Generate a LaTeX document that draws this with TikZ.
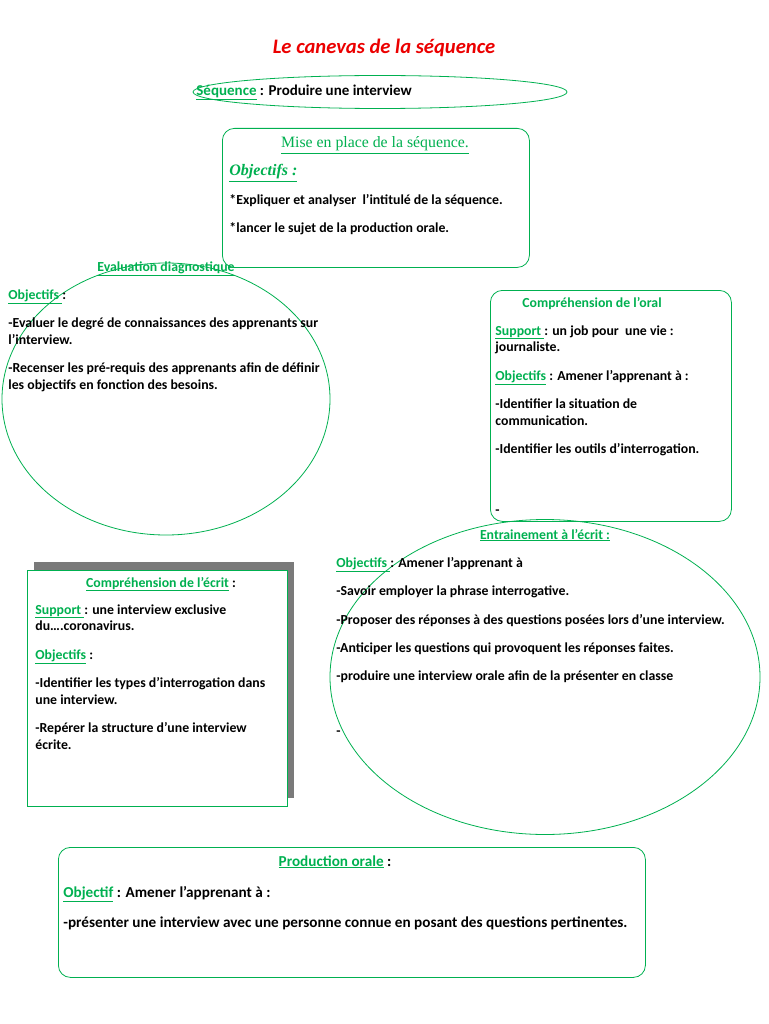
\documentclass[tikz,border=0pt]{standalone}
\usepackage{fontspec}
\setmainfont{Carlito}
\newfontfamily\serifmep{Liberation Serif}
\usetikzlibrary{positioning,shapes.geometric,shadows}
\definecolor{vert}{RGB}{0,176,80}
\definecolor{rouge}{RGB}{235,0,0}
\newcommand{\sous}[1]{\textcolor{vert}{\underline{#1}}}

\begin{document}
\begin{tikzpicture}[x=1pt,y=-1pt,line width=0.8pt,
                    cadre/.style={draw=vert,rounded corners=12pt,anchor=north west,inner sep=0pt},
                    bulle/.style={ellipse,draw=vert,inner sep=0pt},
                    texte/.style={anchor=north west,yshift=10pt,align=left,inner sep=0pt,
                                  execute at begin node={\rule{0pt}{12pt}},
                                  font=\fontsize{13.8}{16.8}\selectfont\bfseries},
                    entete/.style={anchor=base,inner sep=0pt,text=vert,
                                   font=\fontsize{13.8}{16.8}\selectfont\bfseries}]
      \useasboundingbox (0,0) rectangle (768,1024);

      % les cadres et les bulles
      \node[bulle]     (seq)    [minimum width=374pt,minimum height=33pt]  at (380,92)  {};
      \node[bulle]     (eval)   [minimum width=328pt,minimum height=272pt] at (166,399) {};
      \node[bulle]     (entr)   [minimum width=430pt,minimum height=315pt] at (545,677) {};
      \node[cadre]     (mep)    [minimum width=307pt,minimum height=139pt,fill=white] at (222,128) {};
      \node[cadre]     (oral)   [minimum width=241pt,minimum height=231pt] at (490,290) {};
      \node[cadre]     (ecrit)  [rounded corners=0pt,fill=white,minimum width=260pt,minimum height=236pt,
                                 drop shadow={shadow xshift=7pt,shadow yshift=8pt,fill=black!52,opacity=1}]
                                 at (27,570) {};
      \node[cadre]     (prod)   [minimum width=587pt,minimum height=130pt] at (58,847) {};

      % titre
      \node (titre) [anchor=base,inner sep=0pt,text=rouge,
                     font=\fontsize{20.6}{22}\selectfont\bfseries\itshape] at (384,54) {Le canevas de la séquence};

      % séquence
      \node[texte]  (seqtxt)  [font=\fontsize{15}{17}\selectfont\bfseries] at (196,93)
                              {\sous{Séquence} : Produire une interview};

      % mise en place
      \node (meptitre) [anchor=base,inner sep=0pt,text=vert,font=\fontsize{15.8}{18}\selectfont\serifmep]
                       at (375,148) {\underline{Mise en place de la séquence.}};
      \node (mepobj)   [anchor=base west,inner sep=0pt,text=vert,font=\fontsize{16}{18}\selectfont\serifmep\bfseries\itshape]
                       at (229,176) {\underline{Objectifs :}};
      \node[texte]  (meptxt)  at (229,204) {*Expliquer et analyser\ \ l’intitulé de la séquence.\\[11.5pt]
                                            *lancer le sujet de la production orale.};

      % évaluation diagnostique
      \node[entete] (evaltitre) at (166,271) {\underline{Evaluation diagnostique}};
      \node[texte]  (evaltxt)   at (8,299)  {\sous{Objectifs }:\\[11.5pt]
                                             -Evaluer le degré de connaissances des apprenants sur\\
                                             l’interview.\\[11.5pt]
                                             -Recenser les pré-requis des apprenants afin de définir\\
                                             les objectifs en fonction des besoins.};

      % compréhension de l'oral
      \node[entete] (oraltitre) at (592,307) {Compréhension de l’oral};
      \node[texte]  (oraltxt)   at (495,335) {\sous{Support }: un job pour\ \ une vie :\\
                                              journaliste.\\[11.5pt]
                                              \sous{Objectifs} : Amener l’apprenant à :\\[11.5pt]
                                              -Identifier la situation de\\
                                              communication.\\[11.5pt]
                                              -Identifier les outils d’interrogation.\\[44pt]
                                              -};

      % compréhension de l'écrit
      \node[entete] (ecrittitre) [text=black] at (161,587) {\sous{Compréhension de l’écrit} :};
      \node[texte]  (ecrittxt)   at (35,614) {\sous{Support }: une interview exclusive\\
                                              du….coronavirus.\\[11.5pt]
                                              \sous{Objectifs} :\\[11.5pt]
                                              -Identifier les types d’interrogation dans\\
                                              une interview.\\[11.5pt]
                                              -Repérer la structure d’une interview\\
                                              écrite.};

      % entrainement à l'écrit
      \node[entete] (entrtitre) at (545,539) {\underline{Entrainement à l’écrit :}};
      \node[texte]  (entrtxt)   at (336,567) {\sous{Objectifs }: Amener l’apprenant à\\[11.5pt]
                                              -Savoir employer la phrase interrogative.\\[11.5pt]
                                              -Proposer des réponses à des questions posées lors d’une interview.\\[11.5pt]
                                              -Anticiper les questions qui provoquent les réponses faites.\\[11.5pt]
                                              -produire une interview orale afin de la présenter en classe\\[38pt]
                                              -};

      % production orale
      \node[entete] (prodtitre) [text=black,font=\fontsize{15.2}{18}\selectfont\bfseries] at (335,866)
                                {\sous{Production orale} :};
      \node[texte]  (prodtxt)   [font=\fontsize{15.2}{18}\selectfont\bfseries] at (63,896)
                                {\sous{Objectif} : Amener l’apprenant à :\\[12pt]
                                 -présenter une interview avec une personne connue en posant des questions pertinentes.};
\end{tikzpicture}
\end{document}
